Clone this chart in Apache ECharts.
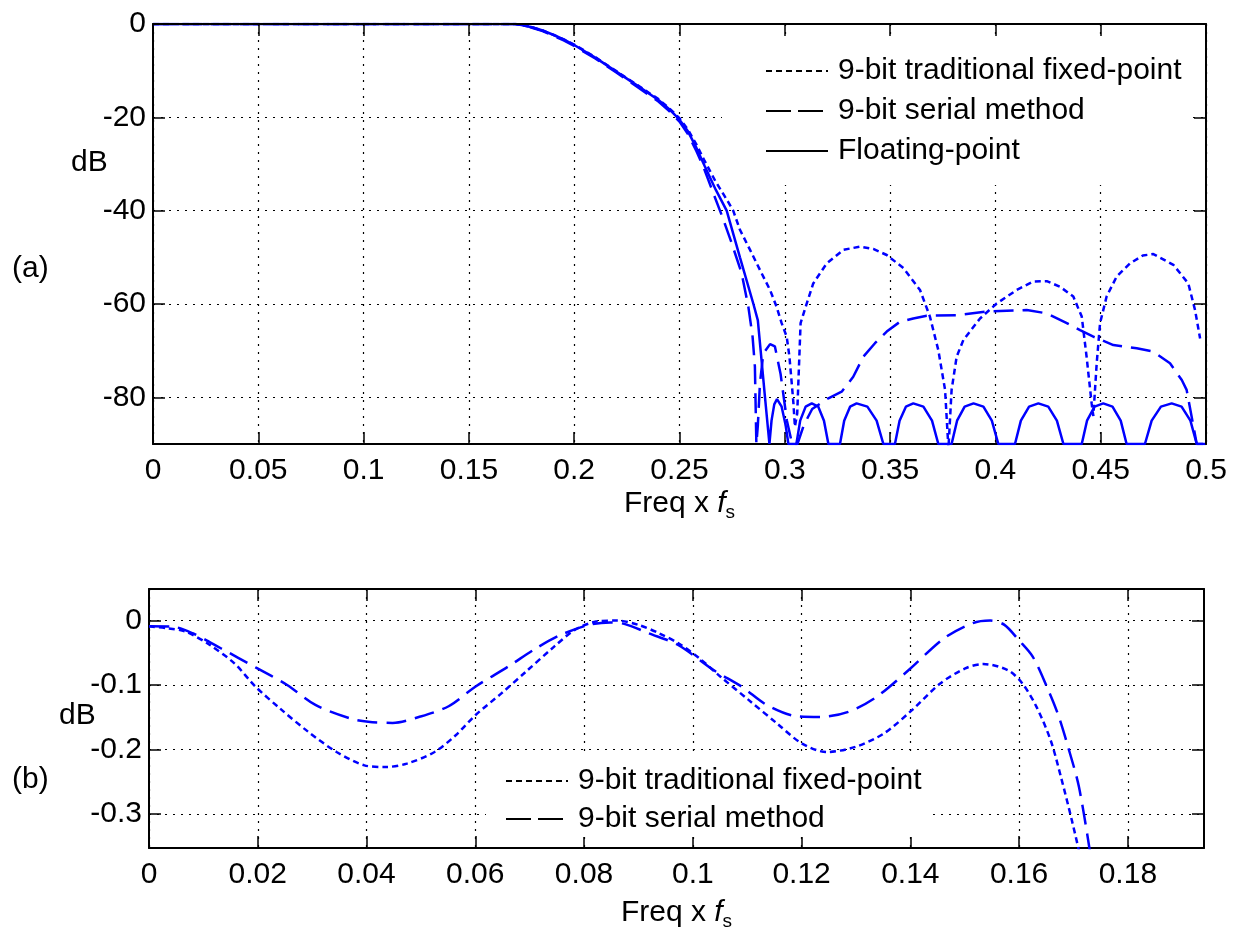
<!DOCTYPE html>
<html><head><meta charset="utf-8">
<script src="https://cdn.jsdelivr.net/npm/echarts@6/dist/echarts.min.js"></script>
<style>html,body{margin:0;padding:0;background:#fff}#c{width:1235px;height:938px}</style>
</head><body><div id="c"></div>
<script>
// ---------- DATA ----------
const namesA = ['9-bit traditional fixed-point', '9-bit serial method', 'Floating-point'];
const namesB = ['9-bit traditional fixed-point', '9-bit serial method'];
const xTicksA = [0, 0.05, 0.1, 0.15, 0.2, 0.25, 0.3, 0.35, 0.4, 0.45, 0.5];
const yTicksA = [-80, -60, -40, -20, 0];
const xTicksB = [0, 0.02, 0.04, 0.06, 0.08, 0.1, 0.12, 0.14, 0.16, 0.18];
const yTicksB = [-0.3, -0.2, -0.1, 0];
const xRangeA = [0, 0.5];
const yRangeA = [-90, 0];
const xRangeB = [0, 0.194];
const yRangeB = [-0.353, 0.049];

// (a) full response, dB
const tradA = [[0,0],[0.172,0],[0.175,-0.2],[0.18,-0.7],[0.185,-1.4],[0.19,-2.3],[0.195,-3.3],[0.2,-4.4],[0.21,-7.1],[0.22,-10.1],[0.23,-13.1],[0.24,-16.1],[0.245,-18],[0.25,-20.2],[0.254,-22.6],[0.258,-25.8],[0.262,-29.4],[0.2672,-33.8],[0.2724,-37.6],[0.2755,-40],[0.2787,-44.1],[0.2835,-48.4],[0.2882,-52.7],[0.293,-57],[0.2961,-60.6],[0.2985,-64.1],[0.3009,-67],[0.3022,-71.3],[0.3033,-77],[0.3041,-81.3],[0.3048,-86.3],[0.3059,-83.4],[0.3069,-71.3],[0.3075,-64.1],[0.3104,-59.9],[0.3135,-55.6],[0.3199,-51.3],[0.3278,-48.4],[0.3357,-47.7],[0.342,-48.2],[0.3484,-49.5],[0.3563,-52.3],[0.3642,-57],[0.3689,-62.7],[0.3729,-69.9],[0.3761,-78.4],[0.3777,-91],[0.3792,-78.4],[0.3816,-71.3],[0.3848,-67.7],[0.3927,-63.1],[0.4006,-59.9],[0.4101,-57],[0.418,-55.2],[0.4244,-55.1],[0.4307,-56.3],[0.437,-58.4],[0.441,-62.7],[0.4433,-71.3],[0.4457,-81.3],[0.4465,-84],[0.4481,-72.7],[0.4497,-64.1],[0.4528,-58.4],[0.4576,-54.1],[0.4639,-51.3],[0.47,-49.6],[0.475,-49.3],[0.4845,-51.6],[0.4916,-55.6],[0.4948,-61.3],[0.4972,-67.4]];
const serialA = [[0,0],[0.172,0],[0.175,-0.2],[0.18,-0.8],[0.185,-1.5],[0.19,-2.5],[0.195,-3.5],[0.2,-4.7],[0.21,-7.4],[0.22,-10.4],[0.23,-13.5],[0.24,-16.6],[0.245,-18.6],[0.25,-20.9],[0.254,-23.6],[0.258,-27.2],[0.2615,-30.8],[0.2661,-36.3],[0.2705,-41.5],[0.2748,-47],[0.2795,-53.4],[0.2827,-60.6],[0.2847,-67],[0.2858,-73.4],[0.2865,-90],[0.2872,-86],[0.2882,-77],[0.2898,-70.6],[0.293,-68.6],[0.2953,-69.1],[0.298,-75],[0.301,-85],[0.3035,-90],[0.306,-90],[0.309,-86],[0.313,-82.5],[0.3207,-80.2],[0.327,-78.8],[0.3325,-75.6],[0.3373,-71.3],[0.3428,-68.4],[0.3484,-65.9],[0.3547,-63.8],[0.361,-63.1],[0.3674,-62.5],[0.3816,-62.4],[0.3959,-61.6],[0.4149,-61.3],[0.4244,-62],[0.4339,-64.1],[0.4402,-65.6],[0.4465,-67],[0.456,-68.8],[0.4671,-69.5],[0.475,-70.2],[0.4829,-72.7],[0.4885,-76.3],[0.4908,-78.4],[0.4956,-90],[0.5,-90]];
const floatA = [[0,0],[0.172,0],[0.175,-0.2],[0.18,-0.7],[0.185,-1.4],[0.19,-2.3],[0.195,-3.3],[0.2,-4.5],[0.21,-7.2],[0.22,-10.2],[0.23,-13.2],[0.24,-16.3],[0.245,-18.2],[0.25,-20.5],[0.254,-23],[0.258,-26.5],[0.262,-30.5],[0.2672,-35.5],[0.2724,-40],[0.2787,-50],[0.2851,-60],[0.2872,-63.5],[0.2906,-80],[0.2927,-90],
[0.2937,-85],[0.295,-81.5],[0.2963,-80.4],[0.2985,-82],[0.3004,-86],[0.3017,-90],
[0.3055,-90],[0.3073,-85],[0.3099,-82],[0.3128,-81.3],[0.3159,-82],[0.3186,-85],[0.3207,-90],
[0.3262,-90],[0.3282,-85],[0.331,-82],[0.3341,-81.3],[0.3392,-82],[0.3436,-85],[0.3468,-90],
[0.3523,-90],[0.3545,-85],[0.3575,-82],[0.361,-81.3],[0.3658,-82],[0.3699,-85],[0.3729,-90],
[0.3792,-90],[0.3818,-85],[0.3854,-82],[0.3896,-81.3],[0.3943,-82],[0.3983,-85],[0.4014,-90],
[0.4093,-90],[0.4121,-85],[0.416,-82],[0.4204,-81.3],[0.4251,-82],[0.4292,-85],[0.4323,-90],
[0.441,-90],[0.4435,-85],[0.4471,-82],[0.4512,-81.3],[0.4556,-82],[0.4595,-85],[0.4623,-90],
[0.471,-90],[0.4742,-85],[0.4786,-82],[0.4837,-81.3],[0.4884,-82],[0.4926,-85],[0.4956,-90],
[0.5,-90]];

// (b) passband detail, dB
const tradB = [[0,-0.009],[0.0035,-0.012],[0.0067,-0.017],[0.0112,-0.0379],[0.0157,-0.0664],[0.0196,-0.1027],[0.0241,-0.1365],[0.0293,-0.1728],[0.0345,-0.204],[0.0396,-0.2247],[0.0435,-0.2273],[0.0474,-0.2221],[0.0525,-0.204],[0.0564,-0.178],[0.06,-0.147],[0.0648,-0.113],[0.0693,-0.0794],[0.0745,-0.0405],[0.0783,-0.0145],[0.0822,-0.0016],[0.0861,0],[0.09,-0.0067],[0.0938,-0.0197],[0.0975,-0.036],[0.1012,-0.0586],[0.1051,-0.0872],[0.1103,-0.1235],[0.1155,-0.1598],[0.1201,-0.191],[0.1246,-0.204],[0.1299,-0.196],[0.1351,-0.1754],[0.1403,-0.139],[0.1455,-0.0976],[0.1501,-0.0742],[0.1534,-0.0675],[0.1579,-0.0768],[0.1606,-0.0976],[0.1632,-0.1339],[0.1658,-0.1858],[0.1677,-0.243],[0.1697,-0.31],[0.171,-0.357]];
const serialB = [[0,-0.009],[0.0041,-0.0093],[0.008,-0.0197],[0.0132,-0.043],[0.0196,-0.0727],[0.0254,-0.1],[0.0306,-0.131],[0.037,-0.152],[0.0403,-0.157],[0.0448,-0.1588],[0.0499,-0.149],[0.0551,-0.133],[0.06,-0.1027],[0.066,-0.0716],[0.0712,-0.043],[0.0757,-0.0223],[0.0809,-0.0067],[0.0848,-0.0031],[0.0874,-0.0052],[0.0919,-0.0197],[0.0973,-0.0379],[0.1038,-0.0768],[0.109,-0.1027],[0.1136,-0.131],[0.1188,-0.148],[0.1234,-0.1495],[0.1286,-0.1417],[0.1338,-0.1183],[0.1397,-0.0768],[0.1462,-0.0275],[0.1514,-0.0042],[0.1547,0],[0.1573,-0.0067],[0.1599,-0.03],[0.1625,-0.056],[0.1651,-0.1027],[0.1671,-0.1443],[0.169,-0.196],[0.171,-0.258],[0.173,-0.357]];

// ---------- STYLE ----------
const FONT = '"Liberation Sans", Arial, Helvetica, sans-serif';
const BLUE = '#0000ff';
const FS = 30;
const dashTrad = [6, 4];
const dashSerial = [20, 9];
const legendDash = { '9-bit traditional fixed-point': [6, 4], '9-bit serial method': [25, 7], 'Floating-point': 'solid' };
const gridDot = { color: '#000', width: 1.2, type: [2, 6] };

function mainX(gi, rng, ticks, gap) {
  return {
    gridIndex: gi, type: 'value', position: 'bottom', min: rng[0], max: rng[1],
    axisLine: { show: true, onZero: false, lineStyle: { color: '#000', width: 2 } },
    axisTick: { show: true, inside: true, length: 12, customValues: ticks, lineStyle: { color: '#000', width: 1.5 } },
    axisLabel: { show: true, color: '#000', fontSize: FS, fontFamily: FONT, margin: 12, customValues: ticks },
    splitLine: { show: true, lineStyle: gridDot },
    name: '{n|Freq x }{i|f}{s|s}', nameLocation: 'middle', nameGap: gap,
    nameTextStyle: { color: '#000', fontFamily: FONT, fontSize: FS,
      rich: { n: { fontSize: FS, fontFamily: FONT, color: '#000', lineHeight: 36 },
              i: { fontSize: FS, fontFamily: FONT, color: '#000', fontStyle: 'italic', lineHeight: 36 },
              s: { fontSize: 19, fontFamily: FONT, color: '#000', lineHeight: 18, verticalAlign: 'bottom' } } }
  };
}
function topX(gi, rng, ticks) {
  return {
    gridIndex: gi, type: 'value', position: 'top', min: rng[0], max: rng[1], z: 10,
    axisLine: { show: true, onZero: false, lineStyle: { color: '#000', width: 2 } },
    axisTick: { show: true, inside: true, length: 12, customValues: ticks, lineStyle: { color: '#000', width: 1.5 } },
    axisLabel: { show: false }, splitLine: { show: false }
  };
}
function mainY(gi, rng, ticks) {
  return {
    gridIndex: gi, type: 'value', position: 'left', min: rng[0], max: rng[1],
    axisLine: { show: true, onZero: false, lineStyle: { color: '#000', width: 2 } },
    axisTick: { show: true, inside: true, length: 12, customValues: ticks, lineStyle: { color: '#000', width: 1.5 } },
    axisLabel: { show: true, color: '#000', fontSize: FS, fontFamily: FONT, margin: 7, customValues: ticks },
    splitLine: { show: true, lineStyle: gridDot }
  };
}
function rightY(gi, rng, ticks) {
  return {
    gridIndex: gi, type: 'value', position: 'right', min: rng[0], max: rng[1], z: 10,
    axisLine: { show: true, onZero: false, lineStyle: { color: '#000', width: 2 } },
    axisTick: { show: true, inside: true, length: 12, customValues: ticks, lineStyle: { color: '#000', width: 1.5 } },
    axisLabel: { show: false }, splitLine: { show: false }
  };
}
function ser(name, data, xi, yi, dash) {
  return {
    name: name, type: 'line', data: data, xAxisIndex: xi, yAxisIndex: yi,
    symbol: 'none', showSymbol: false, clip: true, smooth: false,
    lineStyle: { color: BLUE, width: 2.5, type: dash }, itemStyle: { color: BLUE },
    emphasis: { disabled: true }
  };
}
function legendBox(names, left, top, padding, gap) {
  return {
    data: names.map(n => ({ name: n, lineStyle: { type: legendDash[n], color: '#000', width: 2 } })),
    orient: 'vertical', left: left, top: top, padding: padding, itemGap: gap,
    itemWidth: 62, itemHeight: 20, backgroundColor: '#fff', borderWidth: 0,
    selectedMode: false, z: 4,
    itemStyle: { opacity: 0, borderWidth: 0 },
    lineStyle: { color: '#000', width: 2 },
    textStyle: { color: '#000', fontSize: FS, fontFamily: FONT, lineHeight: 32, padding: [0, 0, 0, 5] }
  };
}

const chart = echarts.init(document.getElementById('c'), null, { renderer: 'canvas' });
chart.setOption({
  animation: false,
  backgroundColor: '#fff',
  grid: [
    { left: 153, top: 24, width: 1053, height: 420, outerBoundsMode: 'none', containLabel: false },
    { left: 149, top: 589, width: 1055, height: 259, outerBoundsMode: 'none', containLabel: false }
  ],
  xAxis: [mainX(0, xRangeA, xTicksA, 42), topX(0, xRangeA, xTicksA), mainX(1, xRangeB, xTicksB, 47), topX(1, xRangeB, xTicksB)],
  yAxis: [mainY(0, yRangeA, yTicksA), rightY(0, yRangeA, yTicksA), mainY(1, yRangeB, yTicksB), rightY(1, yRangeB, yTicksB)],
  legend: [
    legendBox(namesA, 722, 37, [18, 10, 18, 43], 8),
    legendBox(namesB, 486, 754, [11, 10, 2, 19], 6)
  ],
  graphic: [
    { type: 'text', left: 71, top: 148, style: { text: 'dB', fontSize: FS, fontFamily: FONT, fill: '#000' } },
    { type: 'text', left: 12, top: 254, style: { text: '(a)', fontSize: FS, fontFamily: FONT, fill: '#000' } },
    { type: 'text', left: 59, top: 701, style: { text: 'dB', fontSize: FS, fontFamily: FONT, fill: '#000' } },
    { type: 'text', left: 12, top: 765, style: { text: '(b)', fontSize: FS, fontFamily: FONT, fill: '#000' } }
  ],
  series: [
    ser(namesA[0], tradA, 0, 0, dashTrad),
    ser(namesA[1], serialA, 0, 0, dashSerial),
    ser(namesA[2], floatA, 0, 0, 'solid'),
    Object.assign(ser(namesB[0], tradB, 2, 2, dashTrad), { smooth: 0.3 }),
    Object.assign(ser(namesB[1], serialB, 2, 2, dashSerial), { smooth: 0.3 })
  ]
});
</script></body></html>
